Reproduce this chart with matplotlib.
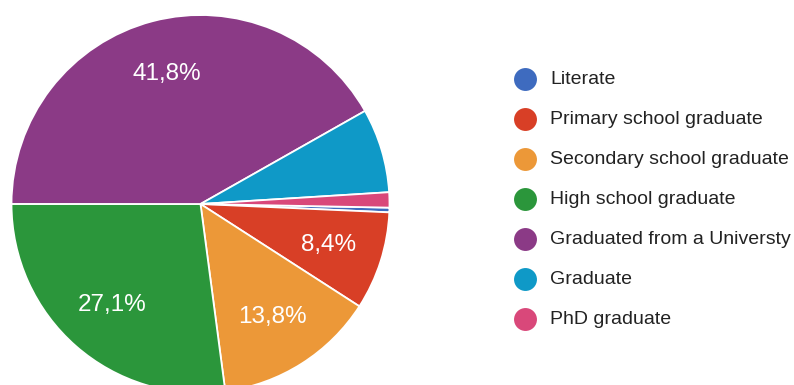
import matplotlib
matplotlib.use("Agg")
import matplotlib.pyplot as plt

plt.rcParams['font.family'] = ['Liberation Sans', 'DejaVu Sans']

categories = [
    "Literate",
    "Primary school graduate",
    "Secondary school graduate",
    "High school graduate",
    "Graduated from a Universty",
    "Graduate",
    "PhD graduate",
]
shares = [0.4, 8.4, 13.8, 27.1, 41.8, 7.2, 1.3]
colors = ["#3e6bbf", "#d83f26", "#ec9838", "#2b963b", "#8b3a86", "#0f99c7", "#d9487a"]

W, H = 794, 385
fig = plt.figure(figsize=(W / 100, H / 100), dpi=100)
ax = fig.add_axes([0, 0, 1, 1])


def pct_label(p):
    # only slices wide enough to hold their text get a label
    return f"{p:.1f}%".replace(".", ",") if p >= 8 else ""


wedges, texts, autotexts = ax.pie(
    shares,
    colors=colors,
    startangle=-1.1,
    counterclock=False,
    center=(200.5, H - 204),
    radius=189,
    autopct=pct_label,
    pctdistance=0.71,
    wedgeprops=dict(edgecolor="white", linewidth=1.3),
    textprops=dict(color="white", fontsize=17.5),
)

ax.set_xlim(0, W)
ax.set_ylim(0, H)
ax.set_aspect("equal")
ax.axis("off")

# legend: colored dot followed by the category name
for i, (name, col) in enumerate(zip(categories, colors)):
    y = H - (79 + 40 * i)
    ax.plot(525, y, marker="o", markersize=16.5, color=col,
            markeredgewidth=0, clip_on=False)
    ax.text(550, y, name, fontsize=14, color="#222222", va="center", ha="left")

fig.savefig("out.png", dpi=100)
